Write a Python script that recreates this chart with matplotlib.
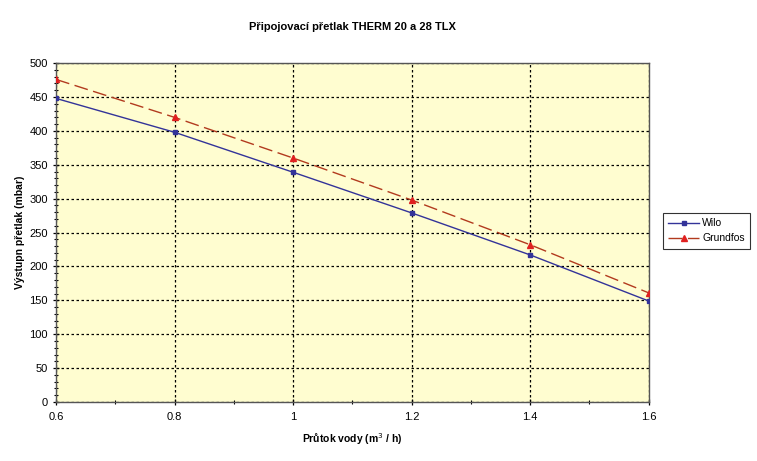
import matplotlib
matplotlib.use("Agg")
import matplotlib.pyplot as plt
from matplotlib.ticker import MultipleLocator, FuncFormatter

plt.rcParams['font.family'] = ['Liberation Sans', 'DejaVu Sans']

flow = [0.6, 0.8, 1.0, 1.2, 1.4, 1.6]
wilo = [448, 398, 339, 279, 217, 149]
grundfos = [476, 420, 360, 298, 232, 161]

title = "Připojovací přetlak THERM 20 a 28 TLX"
xlabel = "Průtok vody (m$^3$ / h)"
ylabel = "Výstupn přetlak (mbar)"

fig = plt.figure(figsize=(7.57, 4.61), dpi=100)
ax = fig.add_axes([0.074, 0.128, 0.783, 0.735])
ax.set_facecolor('#FFFDD0')

ax.plot(flow, wilo, color='#333399', lw=1.0, marker='s', ms=3.2, mfc='#333399', mec='#333399', label='Wilo', zorder=3)
ax.plot(flow, grundfos, color='#B23A1E', lw=1.0, ls=(0, (10, 4)), marker='^', ms=4, mfc='#E02020', mec='#E02020', label='Grundfos', zorder=3)

ax.set_xlim(0.6, 1.6)
ax.set_ylim(0, 500)
ax.xaxis.set_major_locator(MultipleLocator(0.2))
ax.xaxis.set_minor_locator(MultipleLocator(0.1))
ax.yaxis.set_major_locator(MultipleLocator(50))
ax.yaxis.set_minor_locator(MultipleLocator(10))
ax.xaxis.set_major_formatter(FuncFormatter(lambda v, p: ('%g' % round(v, 2))))
ax.grid(which='major', color='black', ls=(0, (2, 2)), lw=0.9)
ax.tick_params(which='major', direction='inout', length=5, labelsize=8, width=0.9)
ax.tick_params(which='minor', direction='inout', length=3, width=0.8)
ax.tick_params(axis='x', pad=5)
for s in ax.spines.values():
    s.set_color('#555555')
    s.set_linewidth(1.0)

ax.set_title(title, fontsize=8, fontweight='bold', pad=24)
ax.set_xlabel(xlabel, fontsize=7.5, fontweight='bold', labelpad=6)
ax.set_ylabel(ylabel, fontsize=7.5, fontweight='bold', labelpad=3)

leg = ax.legend(loc='center left', bbox_to_anchor=(1.015, 0.505), fontsize=7.5, frameon=True,
                fancybox=False, edgecolor='black', handlelength=3, borderpad=0.5, labelspacing=0.5,
                handletextpad=0.3, numpoints=1)
leg.get_frame().set_linewidth(0.8)

fig.savefig('out.png', dpi=100, facecolor='white')
